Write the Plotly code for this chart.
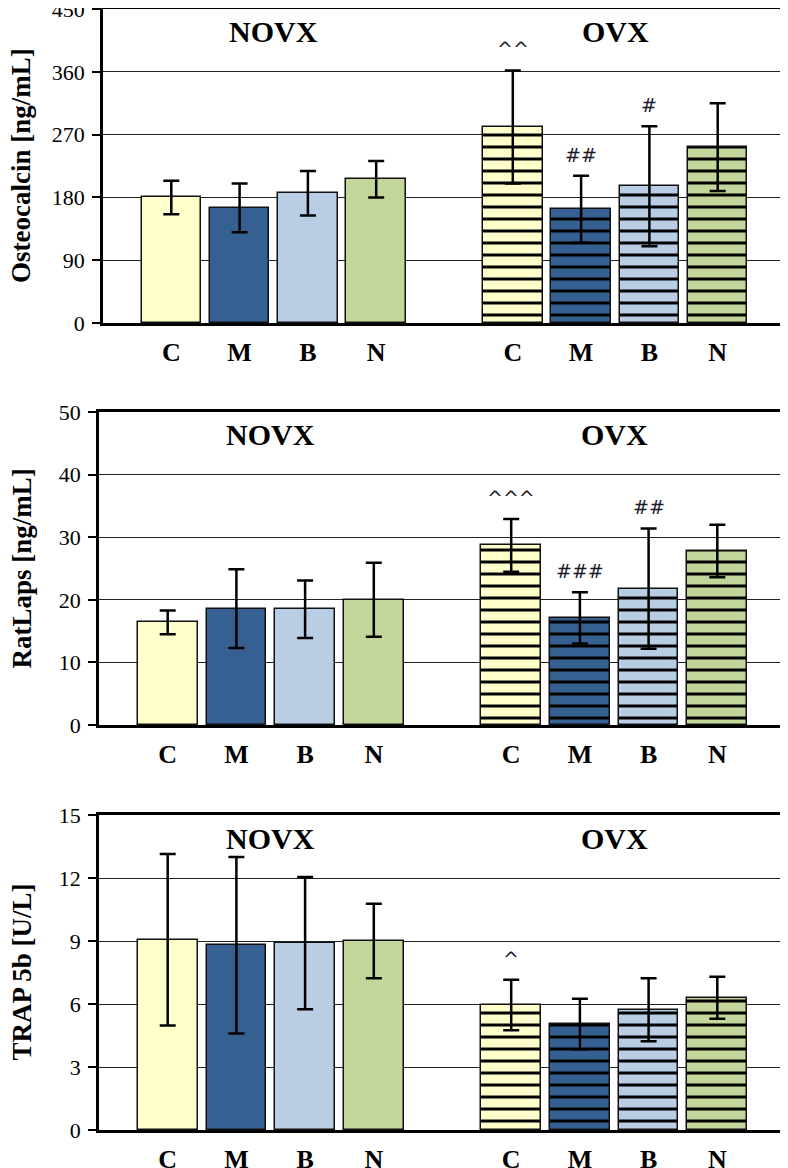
import plotly.graph_objects as go

# ---------------- data ----------------
categories = ["C", "M", "B", "N"]
group_labels = ["NOVX", "OVX"]

osteo_novx = [180, 165, 186, 206]
osteo_novx_err = [24, 35, 32, 26]
osteo_ovx = [281, 163, 196, 252]
osteo_ovx_err = [81, 48, 86, 63]
osteo_sig = ["^^", "##", "#", ""]

ratlaps_novx = [16.4, 18.6, 18.5, 20.0]
ratlaps_novx_err = [1.9, 6.3, 4.6, 5.9]
ratlaps_ovx = [28.7, 17.1, 21.8, 27.8]
ratlaps_ovx_err = [4.2, 4.1, 9.6, 4.2]
ratlaps_sig = ["^^^", "###", "##", ""]

trap_novx = [9.06, 8.8, 8.9, 9.0]
trap_novx_err = [4.08, 4.2, 3.15, 1.77]
trap_ovx = [5.95, 5.05, 5.73, 6.3]
trap_ovx_err = [1.2, 1.2, 1.5, 1.0]
trap_sig = ["^", "", "", ""]

y_titles = ["Osteocalcin [ng/mL]", "RatLaps [ng/mL]", "TRAP 5b [U/L]"]
y_ranges = [(0, 450, 90), (0, 50, 10), (0, 15, 3)]

# ---------------- style ----------------
bar_colors = ["#FFFFCC", "#376092", "#B9CDE5", "#C3D69B"]
SERIF = "Liberation Serif"
OFF = 8                      # default page body margin
W, H = 788 - OFF, 1168 - OFF

# pixel layout of the three panels in page pixels (left, right, top, bottom)
panel_px = [(103, 786, 9, 323), (99, 786, 412, 725), (99, 786, 815, 1130)]
label_standoff = [4, 4, 4]

panels = [
    (osteo_novx, osteo_novx_err, osteo_ovx, osteo_ovx_err, osteo_sig),
    (ratlaps_novx, ratlaps_novx_err, ratlaps_ovx, ratlaps_ovx_err, ratlaps_sig),
    (trap_novx, trap_novx_err, trap_ovx, trap_ovx_err, trap_sig),
]

fig = go.Figure()
annotations = []

n = len(categories)
novx_x = [i + 1 for i in range(n)]
ovx_x = [i + n + 2 for i in range(n)]

for k, (nv, nve, ov, ove, sig) in enumerate(panels):
    xa = "x" if k == 0 else f"x{k+1}"
    ya = "y" if k == 0 else f"y{k+1}"
    err_style = dict(type="data", visible=True, color="black", thickness=2.5, width=8)
    fig.add_trace(go.Bar(
        x=novx_x, y=nv, xaxis=xa, yaxis=ya, width=0.87,
        marker=dict(color=bar_colors, line=dict(color="#111111", width=1.5)),
        error_y=dict(array=nve, **err_style), showlegend=False,
    ))
    for i in range(n):
        fig.add_trace(go.Bar(
            x=[ovx_x[i]], y=[ov[i]], xaxis=xa, yaxis=ya, width=0.87,
            marker=dict(color=bar_colors[i], line=dict(color="#111111", width=1.5),
                        pattern=dict(shape="-", fgcolor="black", bgcolor=bar_colors[i],
                                     size=12, solidity=0.25, fillmode="replace")),
            error_y=dict(array=[ove[i]], **err_style), showlegend=False,
        ))

    l, r, t, b = [v - OFF for v in panel_px[k]]
    xdom = [l / W, min(r / W, 1.0)]
    ydom = [1 - b / H, 1 - t / H]
    y0, y1, dt = y_ranges[k]
    axkey_x = "xaxis" if k == 0 else f"xaxis{k+1}"
    axkey_y = "yaxis" if k == 0 else f"yaxis{k+1}"
    fig.update_layout(**{
        axkey_x: dict(
            domain=xdom, anchor=ya, range=[0, 2 * n + 2], automargin=False,
            tickvals=novx_x + ovx_x,
            ticktext=[f"<b>{c}</b>" for c in categories] * 2,
            tickfont=dict(family=SERIF, size=26, color="black"),
            ticks="", ticklabelstandoff=label_standoff[k],
            ticklabeloverflow="allow",
            showline=True, linecolor="black", linewidth=2.5, mirror=True,
            showgrid=False, zeroline=False, fixedrange=True,
        ),
        axkey_y: dict(
            domain=ydom, anchor=xa, range=[y0, y1], tick0=0, dtick=dt,
            automargin=False, ticklabeloverflow="allow",
            tickfont=dict(family=SERIF, size=22, color="black"),
            ticks="outside", ticklen=8, tickwidth=2, tickcolor="black",
            ticklabelstandoff=3,
            showline=True, linecolor="black", linewidth=2.5, mirror=True,
            showgrid=True, gridcolor="#222222", gridwidth=1.2,
            zeroline=False, fixedrange=True,
        ),
    })

    # y axis title
    annotations.append(dict(
        text=f"<b>{y_titles[k]}</b>", xref="paper", yref="paper",
        x=(21 - OFF) / W, y=(ydom[0] + ydom[1]) / 2, textangle=-90,
        showarrow=False, xanchor="center", yanchor="middle",
        font=dict(family=SERIF, size=27, color="black"),
    ))
    # group labels
    for gi, g in enumerate(group_labels):
        gx = (novx_x if gi == 0 else ovx_x)
        annotations.append(dict(
            text=f"<b>{g}</b>", xref=xa, yref=f"{ya} domain",
            x=(gx[0] + gx[-1]) / 2, y=1, yshift=-23,
            showarrow=False, xanchor="center", yanchor="middle",
            font=dict(family=SERIF, size=30, color="black"),
        ))
    # significance markers above OVX error bars
    for i, s in enumerate(sig):
        if s:
            annotations.append(dict(
                text=s, xref=xa, yref=ya, x=ovx_x[i], y=ov[i] + ove[i],
                yshift=8, showarrow=False, xanchor="center", yanchor="bottom",
                font=dict(family="DejaVu Sans", size=19, color="#1a1a2a"),
            ))

fig.update_layout(
    width=W, height=H, margin=dict(l=0, r=0, t=0, b=0, autoexpand=False),
    paper_bgcolor="white", plot_bgcolor="white",
    barmode="overlay", bargap=0, annotations=annotations,
    showlegend=False,
)

fig.write_html("out.html")
